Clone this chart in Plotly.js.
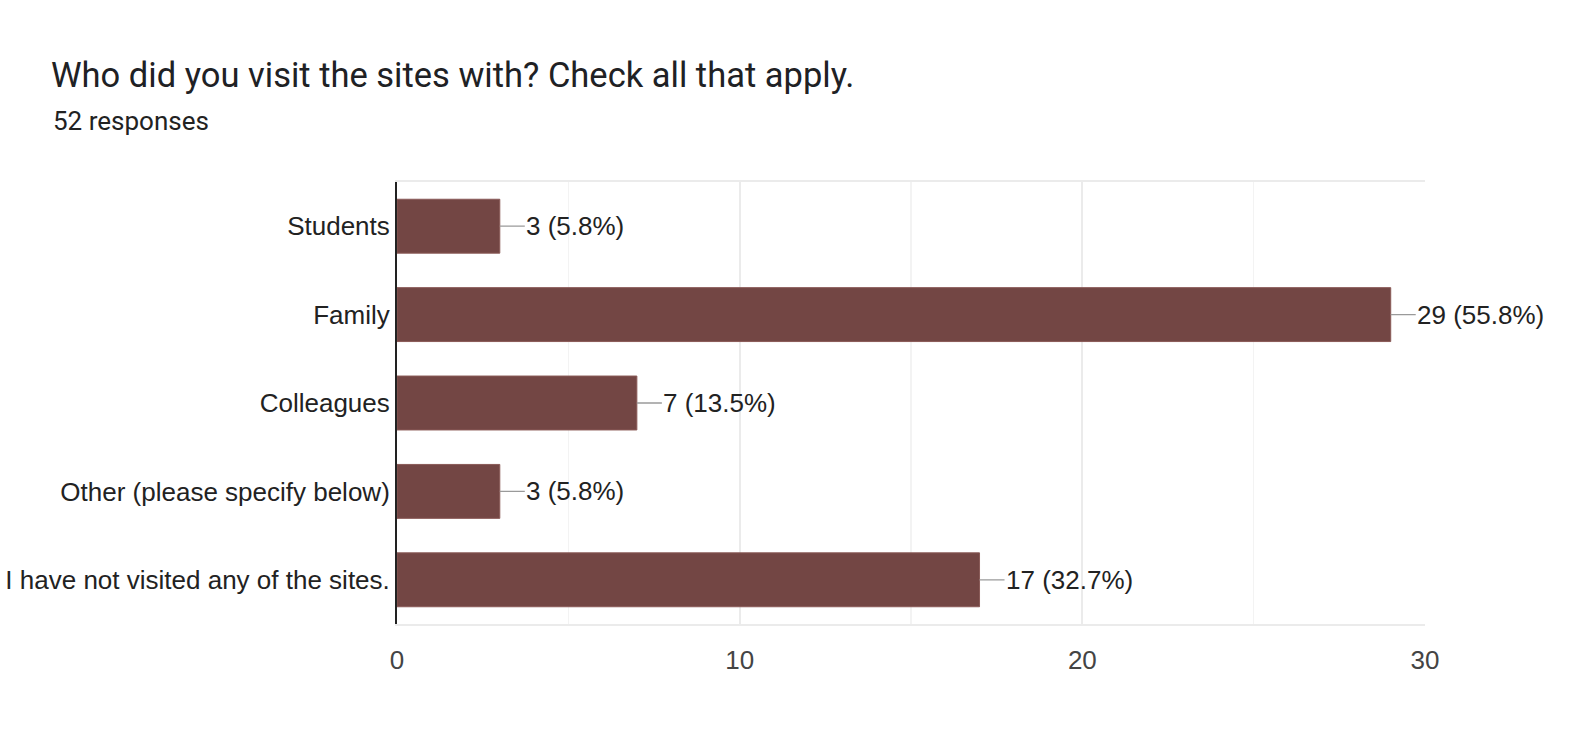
<!DOCTYPE html>
<html><head><meta charset="utf-8">
<script src="https://cdn.plot.ly/plotly-3.0.1.min.js"></script>
<style>html,body{margin:0;padding:0;background:#fff}#chart{width:1585px;height:755px}</style>
</head><body><div id="chart"></div>
<script>
const categories = ["Students", "Family", "Colleagues", "Other (please specify below)", "I have not visited any of the sites."];
const counts = [3, 29, 7, 3, 17];
const percents = ["5.8%", "55.8%", "13.5%", "5.8%", "32.7%"];
const xTicks = [0, 10, 20, 30];

const labelFont = {family: "Liberation Sans, Arial, sans-serif", size: 26, color: "#222"};

const annotations = categories.map((c, i) => ({
  x: counts[i], y: c, xref: "x", yref: "y",
  text: counts[i] + " (" + percents[i] + ")",
  showarrow: true, arrowhead: 0, arrowwidth: 1.3, arrowcolor: "#9a9a9a",
  ax: 25, ay: 0, xanchor: "left", standoff: 0, startstandoff: 0,
  font: labelFont, borderpad: 0
}));
annotations.push({
  text: "52 responses", xref: "paper", yref: "paper", x: -397/1028 + 51/1028, y: 1 + (182-121)/442,
  xanchor: "left", yanchor: "middle", showarrow: false,
  font: {family: "Roboto, sans-serif", size: 26, color: "#222"}
});

Plotly.newPlot("chart", [{
  type: "bar", orientation: "h", x: counts, y: categories,
  marker: {color: "#734644", line: {color: "#8a5a57", width: 1}},
  hoverinfo: "none"
}], {
  width: 1585, height: 755,
  margin: {l: 397, r: 160, t: 182, b: 131},
  paper_bgcolor: "#fff", plot_bgcolor: "#fff",
  bargap: 0.39,
  showlegend: false,
  title: {text: "Who did you visit the sites with? Check all that apply.", x: 51/1585, xanchor: "left", y: 1 - 75/755, yanchor: "middle",
    font: {family: "Roboto, sans-serif", size: 34.5, color: "#202124"}},
  xaxis: {range: [0, 30], tickvals: xTicks, ticktext: xTicks.map(String), showgrid: true, gridcolor: "#ebebeb", gridwidth: 2,
    minor: {dtick: 5, tick0: 0, showgrid: true, gridcolor: "#f3f3f3", gridwidth: 1.5},
    showline: true, linecolor: "#ebebeb", linewidth: 2, mirror: true, zeroline: false,
    ticks: "", ticklabelstandoff: 12,
    tickfont: {family: "Liberation Sans, Arial, sans-serif", size: 26, color: "#444"}, fixedrange: true},
  yaxis: {autorange: "reversed", showline: true, linecolor: "#222", linewidth: 2, ticks: "", showgrid: false, ticklabelstandoff: 0,
    tickfont: labelFont, fixedrange: true},
  annotations: annotations
}, {displayModeBar: false, staticPlot: true});
</script></body></html>
